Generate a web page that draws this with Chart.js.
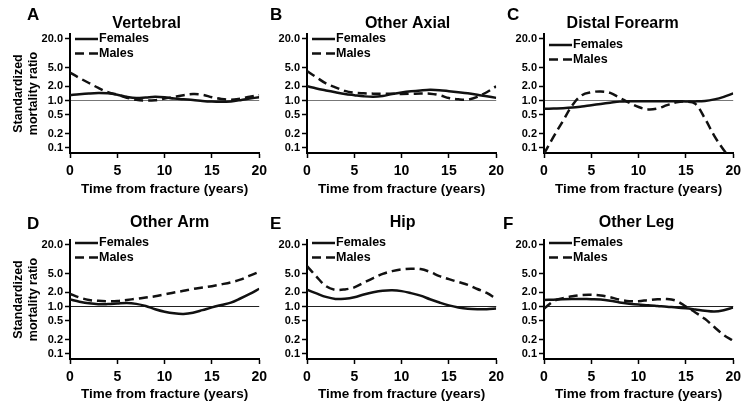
<!DOCTYPE html>
<html>
<head>
<meta charset="utf-8">
<script src="https://cdn.jsdelivr.net/npm/chart.js@4.4.0/dist/chart.umd.min.js"></script>
<style>
  html, body { margin: 0; padding: 0; background: #fff; }
  body { width: 746px; height: 409px; position: relative; overflow: hidden; }
  canvas { position: absolute; }
</style>
</head>
<body>
<script>
// Data (standardized mortality ratio by years since fracture)
const years = [0, 1, 2, 3, 4, 5, 6, 7, 8, 9, 10, 11, 12, 13, 14, 15, 16, 17, 18, 19, 20];
const yTicks = [0.1, 0.2, 0.5, 1, 2, 5, 20];
const seriesLabels = ['Females', 'Males'];
const panelLetters = ['A', 'B', 'C', 'D', 'E', 'F'];
const panelTitles = ['Vertebral', 'Other Axial', 'Distal Forearm', 'Other Arm', 'Hip', 'Other Leg'];

const vertebralFemales = [1.30, 1.36, 1.41, 1.44, 1.42, 1.33, 1.20, 1.13, 1.16, 1.20, 1.17, 1.10, 1.06, 1.03, 0.98, 0.95, 0.94, 0.96, 1.02, 1.10, 1.18];
const vertebralMales = [3.90, 3.00, 2.35, 1.85, 1.50, 1.33, 1.15, 1.04, 1.00, 1.02, 1.10, 1.20, 1.30, 1.37, 1.33, 1.18, 1.08, 1.04, 1.10, 1.20, 1.30];
const otherAxialFemales = [2.00, 1.80, 1.64, 1.50, 1.38, 1.30, 1.23, 1.20, 1.25, 1.37, 1.48, 1.57, 1.64, 1.69, 1.66, 1.58, 1.50, 1.42, 1.33, 1.23, 1.14];
const otherAxialMales = [4.20, 3.10, 2.30, 1.90, 1.60, 1.46, 1.42, 1.40, 1.40, 1.39, 1.38, 1.39, 1.41, 1.40, 1.30, 1.13, 1.06, 1.05, 1.20, 1.50, 2.00];
const forearmFemales = [0.67, 0.68, 0.69, 0.71, 0.75, 0.80, 0.85, 0.90, 0.95, 0.97, 0.97, 0.97, 0.97, 0.97, 0.97, 0.96, 0.96, 0.98, 1.06, 1.20, 1.42];
const forearmMales = [0.075, 0.17, 0.37, 0.80, 1.30, 1.50, 1.56, 1.45, 1.15, 0.90, 0.73, 0.65, 0.68, 0.80, 0.92, 0.95, 0.85, 0.42, 0.18, 0.09, 0.05];
const otherArmFemales = [1.41, 1.27, 1.17, 1.12, 1.13, 1.16, 1.19, 1.14, 1.03, 0.88, 0.78, 0.72, 0.70, 0.74, 0.84, 0.96, 1.08, 1.21, 1.48, 1.85, 2.38];
const otherArmMales = [1.85, 1.55, 1.38, 1.32, 1.30, 1.31, 1.38, 1.46, 1.55, 1.65, 1.80, 1.98, 2.15, 2.35, 2.52, 2.70, 2.95, 3.25, 3.70, 4.50, 5.40];
const hipFemales = [2.27, 1.90, 1.60, 1.45, 1.47, 1.58, 1.80, 2.00, 2.15, 2.20, 2.12, 1.92, 1.70, 1.43, 1.22, 1.06, 0.96, 0.90, 0.88, 0.88, 0.91];
const hipMales = [7.20, 4.30, 2.70, 2.25, 2.30, 2.55, 3.20, 4.00, 4.90, 5.60, 6.10, 6.30, 6.20, 5.40, 4.40, 3.80, 3.30, 2.88, 2.35, 1.94, 1.45];
const otherLegFemales = [1.37, 1.40, 1.43, 1.44, 1.44, 1.43, 1.41, 1.33, 1.22, 1.15, 1.10, 1.07, 1.03, 0.99, 0.96, 0.92, 0.87, 0.82, 0.79, 0.84, 0.95];
const otherLegMales = [0.90, 1.30, 1.50, 1.65, 1.76, 1.78, 1.72, 1.57, 1.40, 1.30, 1.30, 1.37, 1.42, 1.44, 1.32, 1.00, 0.75, 0.55, 0.37, 0.25, 0.19];

const femaleSeries = [vertebralFemales, otherAxialFemales, forearmFemales, otherArmFemales, hipFemales, otherLegFemales];
const maleSeries = [vertebralMales, otherAxialMales, forearmMales, otherArmMales, hipMales, otherLegMales];

// Layout of each panel: plot area left/top in page pixels and text offsets
const layout = [
  { left: 70,  top: 34,  yTitle: true,  letterDx: -43, letterDy: -19, titleDx: -18, titleDy: -10, legendDy: 5,  refColor: '#777' },
  { left: 307, top: 34,  yTitle: false, letterDx: -37, letterDy: -19, titleDx: 6,   titleDy: -10, legendDy: 5,  refColor: '#777' },
  { left: 544, top: 34,  yTitle: false, letterDx: -37, letterDy: -19, titleDx: -16, titleDy: -10, legendDy: 11, refColor: '#777' },
  { left: 70,  top: 240, yTitle: true,  letterDx: -43, letterDy: -16, titleDx: 5,   titleDy: -17, legendDy: 3,  refColor: '#222' },
  { left: 307, top: 240, yTitle: false, letterDx: -37, letterDy: -16, titleDx: 1,   titleDy: -17, legendDy: 3,  refColor: '#222' },
  { left: 544, top: 240, yTitle: false, letterDx: -41, letterDy: -16, titleDx: -2,  titleDy: -17, legendDy: 3,  refColor: '#222' }
];

const FONT = '"Liberation Sans", Arial, Helvetica, sans-serif';
Chart.defaults.font.family = FONT;
Chart.defaults.color = '#000';

const Y_AXIS_W = 70;
const PAD_TOP = 34;
const PLOT_W = 192;
const PAD_RIGHT = 10;
const X_AXIS_H = 47;

function overlayPlugin(i) {
  const cfg = layout[i];
  return {
    id: 'overlay',
    afterDraw(chart) {
      const ctx = chart.ctx;
      const a = chart.chartArea;
      ctx.save();
      ctx.fillStyle = '#000';
      // panel letter
      ctx.font = 'bold 17px ' + FONT;
      ctx.textAlign = 'left';
      ctx.textBaseline = 'middle';
      ctx.fillText(panelLetters[i], a.left + cfg.letterDx, a.top + cfg.letterDy);
      // panel title
      ctx.font = 'bold 16px ' + FONT;
      ctx.textAlign = 'center';
      ctx.fillText(panelTitles[i], (a.left + a.right) / 2 + cfg.titleDx, a.top + cfg.titleDy);
      // legend inside plot area
      ctx.font = 'bold 12.5px ' + FONT;
      ctx.textAlign = 'left';
      chart.data.datasets.forEach((ds, k) => {
        const y = a.top + cfg.legendDy + k * 14.5;
        ctx.strokeStyle = ds.borderColor;
        ctx.lineWidth = ds.borderWidth;
        ctx.setLineDash(ds.borderDash || []);
        ctx.beginPath();
        ctx.moveTo(a.left + 5, y);
        ctx.lineTo(a.left + 28, y);
        ctx.stroke();
        ctx.fillText(ds.label, a.left + 29, y);
      });
      ctx.restore();
    }
  };
}

layout.forEach((cfg, i) => {
  const canvas = document.createElement('canvas');
  const w = Y_AXIS_W + PLOT_W + PAD_RIGHT;
  const h = PAD_TOP + 119 + X_AXIS_H - (i > 2 ? 1 : 0);
  canvas.width = w;
  canvas.height = h;
  canvas.style.left = (cfg.left - Y_AXIS_W) + 'px';
  canvas.style.top = (cfg.top - PAD_TOP) + 'px';
  document.body.appendChild(canvas);

  new Chart(canvas.getContext('2d'), {
    type: 'line',
    data: {
      datasets: [
        {
          label: seriesLabels[0],
          data: years.map((x, k) => ({ x: x, y: femaleSeries[i][k] })),
          borderColor: '#111',
          borderWidth: 2.5,
          pointRadius: 0,
          tension: 0.35,
          fill: false
        },
        {
          label: seriesLabels[1],
          data: years.map((x, k) => ({ x: x, y: maleSeries[i][k] })),
          borderColor: '#111',
          borderWidth: 2.5,
          borderDash: [9, 5],
          pointRadius: 0,
          tension: 0.35,
          fill: false
        }
      ]
    },
    options: {
      responsive: false,
      animation: false,
      layout: { padding: { left: 0, top: PAD_TOP, right: PAD_RIGHT, bottom: 0 } },
      plugins: {
        legend: { display: false },
        title: { display: false },
        tooltip: { enabled: false }
      },
      scales: {
        x: {
          type: 'linear',
          min: 0,
          max: 20,
          afterFit: s => { s.height = X_AXIS_H - (i > 2 ? 1 : 0); },
          ticks: { stepSize: 5, padding: 5, font: { size: 14, weight: 'bold' }, color: '#000', maxRotation: 0 },
          grid: { drawOnChartArea: false, drawTicks: true, tickLength: 5, tickColor: '#000', tickWidth: 1.5 },
          border: { display: true, color: '#000', width: 2 },
          title: {
            display: true,
            text: 'Time from fracture (years)',
            font: { size: 13.5, weight: 'bold' },
            color: '#000',
            padding: { top: 0, bottom: 3 }
          }
        },
        y: {
          type: 'logarithmic',
          min: 0.078,
          max: 25.5,
          afterFit: s => { s.width = Y_AXIS_W; },
          afterBuildTicks: s => { s.ticks = yTicks.map(v => ({ value: v })); },
          ticks: {
            callback: v => Number(v).toFixed(1),
            padding: 2,
            font: { size: 11, weight: 'bold' },
            color: '#000'
          },
          grid: {
            drawOnChartArea: true,
            color: c => (c.tick && c.tick.value === 1 ? cfg.refColor : 'rgba(0,0,0,0)'),
            lineWidth: 1,
            tickLength: 5,
            tickColor: '#000',
            tickWidth: 1.5
          },
          border: { display: true, color: '#000', width: 2 },
          title: {
            display: cfg.yTitle,
            text: ['Standardized', 'mortality ratio'],
            font: { size: 12.5, weight: 'bold', lineHeight: 1.2 },
            color: '#000',
            padding: { top: 11, bottom: 0 }
          }
        }
      }
    },
    plugins: [overlayPlugin(i)]
  });
});
</script>
</body>
</html>
